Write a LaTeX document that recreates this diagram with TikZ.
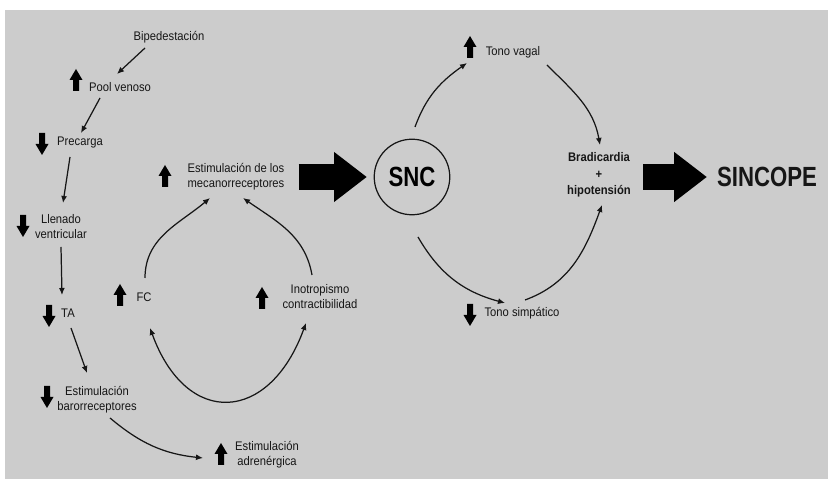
\documentclass[tikz,border=0pt]{standalone}
\usepackage{fontspec}
\setmainfont{Liberation Sans}[FakeStretch=0.9]
\newfontfamily\bigfont{Liberation Sans}[FakeStretch=0.8]
\usetikzlibrary{calc,arrows.meta}

\begin{document}
\begin{tikzpicture}[x=0.02cm,y=0.02cm,
	txt/.style={inner sep=0pt,align=center,text=ink,font=\fontsize{7.1}{8.5}\selectfont},
	conn/.style={line width=0.7pt,draw=ink,-{Latex[length=4pt,width=3.4pt]}},
	bothconn/.style={line width=0.7pt,draw=ink,{Latex[length=4pt,width=3.4pt]}-{Latex[length=4pt,width=3.4pt]}},
	bigarr/.style={line width=14.8pt,draw=black,-{Triangle[length=18.5pt,width=28.5pt,line width=0pt]}},
	upico/.pic={\fill[black] (-3,-11) -- (3,-11) -- (3,0) -- (6.5,0) -- (0,11) -- (-6.5,0) -- (-3,0) -- cycle;},
	downico/.pic={\fill[black] (-3,11) -- (3,11) -- (3,0) -- (6.5,0) -- (0,-11) -- (-6.5,0) -- (-3,0) -- cycle;}]
	\definecolor{bggray}{RGB}{204,204,204}
	\definecolor{ink}{RGB}{22,22,22}
	
	\useasboundingbox (0,0) rectangle (828,479);
	\fill[bggray] (5,0) rectangle (828,469);
	
	\node[txt] (bip) at (169,442) {Bipedestación};
	\node[txt] (pool) at (120,392) {Pool venoso};
	\node[txt] (prec) at (80,336) {Precarga};
	\node[txt] (llen) at (61,252) {Llenado\\ventricular};
	\node[txt] (ta) at (68,166) {TA};
	\node[txt] (baro) at (97,79) {Estimulación\\barorreceptores};
	\node[txt] (adren) at (267,24) {Estimulación\\adrenérgica};
	\pic at (76,399) {upico};
	\pic at (42,335) {downico};
	\pic at (23,253) {downico};
	\pic at (49,163) {downico};
	\pic at (47,82) {downico};
	\pic at (221,25) {upico};
	
	\draw[conn] ($(bip)+(-24,-11)$) -- ($(pool)+(-3,13)$);
	\draw[conn] ($(pool)+(-20,-11)$) -- ($(prec)+(1,10)$);
	\draw[conn] ($(prec)+(-10,-14)$) -- ($(llen)+(2,24)$);
	\draw[conn] ($(llen)+(0,-20)$) -- ($(ta)+(-6,18)$);
	\draw[conn] ($(ta)+(3,-15)$) -- ($(baro)+(-10,27)$);
	\draw[conn] ($(baro)+(13,-18)$) to[out=-40,in=174] ($(adren)+(-64,-3)$);
	
	\node[txt] (mec) at (236,302) {Estimulación de los\\mecanorreceptores};
	\node[txt] (fc) at (144,182) {FC};
	\node[txt] (ino) at (320,182) {Inotropismo\\contractibilidad};
	\pic at (165,303) {upico};
	\pic at (120,184) {upico};
	\pic at (262,181) {upico};
	
	\draw[conn] ($(fc)+(1,19)$) to[out=90,in=220] ($(mec)+(-26,-21)$);
	\draw[conn] ($(ino)+(-8,22)$) to[out=100,in=-35] ($(mec)+(7,-21)$);
	\draw[bothconn] ($(fc)+(6,-31)$) to[out=-70,in=-110,looseness=1.75] ($(ino)+(-14,-26)$);
	
	\node[circle,draw=ink,line width=0.7pt,minimum size=43pt,inner sep=0pt,font=\bigfont\bfseries\fontsize{15.8}{18}\selectfont] (snc) at (412,302) {SNC};
	\draw[bigarr] ($(mec.east)+(14,0)$) -- ($(snc.west)+(-7,0)$);
	
	\node[txt] (vagal) at (513,427) {Tono vagal};
	\node[txt] (simp) at (522,166) {Tono simpático};
	\pic at (470,432) {upico};
	\pic at (470,164) {downico};
	\node[txt,font=\fontsize{7.1}{9.3}\selectfont\bfseries] (brad) at (599,304) {Bradicardia\\+\\hipotensión};
	\node[inner sep=0pt,text=ink,font=\bigfont\bfseries\fontsize{15.8}{18}\selectfont] (sinc) at (767,302) {SINCOPE};
	
	\draw[conn] ($(snc)+(3,50)$) to[out=70,in=215] ($(vagal)+(-46,-11)$);
	\draw[conn] ($(vagal)+(34,-13)$) to[out=-45,in=100] ($(brad)+(1,30)$);
	\draw[conn] ($(snc)+(6,-60)$) to[out=-60,in=165] ($(simp)+(-17,10)$);
	\draw[conn] ($(simp)+(3,13)$) to[out=20,in=-110] ($(brad)+(3,-30)$);
	\draw[bigarr] ($(brad.east)+(12,-2)$) -- ($(sinc.west)+(-10,0)$);
\end{tikzpicture}
\end{document}
